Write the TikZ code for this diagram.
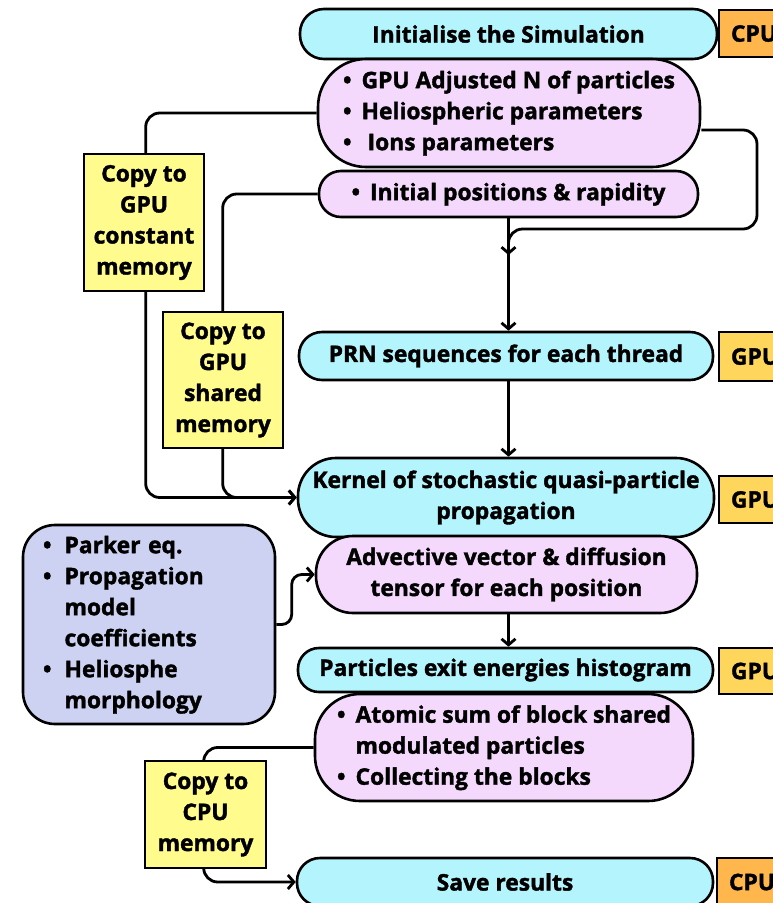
\documentclass[tikz,border=0pt]{standalone}
\usepackage{fontspec}
\setmainfont{Open Sans}[BoldFeatures={FakeBold=1.6}]
\usetikzlibrary{arrows.meta,calc}
\pgfdeclarelayer{bg}\pgfsetlayers{bg,main}
\definecolor{cyanbox}{HTML}{B4F4FD}
\definecolor{purplebox}{HTML}{F4D9FC}
\definecolor{bluebox}{HTML}{CDD2F3}
\definecolor{yellowbox}{HTML}{FFFB8C}
\definecolor{gpucol}{HTML}{FFD65C}
\definecolor{cpucol}{HTML}{FFB74D}
\tikzset{
  box/.style={draw=black, line width=2.6pt, font=\fontsize{22.8}{31}\selectfont\bfseries, align=center, inner sep=0pt},
  cyanpill/.style={box, fill=cyanbox},
  purplepill/.style={box, fill=purplebox},
  copybox/.style={box, fill=yellowbox, line width=2.2pt, minimum width=120pt},
  tag/.style={box, line width=2pt, anchor=west, inner xsep=12pt},
  conn/.style={line width=2.8pt, -{Straight Barb[length=6pt,width=14pt]}},
}
\newcommand{\bl}{\textbullet}
\begin{document}
\begin{tikzpicture}[x=1pt,y=-1pt]
\clip (0,0) rectangle (773,903);
\begin{pgfonlayer}{bg}
\fill[white] (0,0) rectangle (773,903);
\end{pgfonlayer}
% main column
\node[cyanpill, minimum width=417pt, minimum height=50pt, rounded corners=24pt] (init) at (508.5,34) {Initialise the Simulation};
\node[tag, fill=cpucol, minimum height=47pt] (cpu1) at (718,33.5) {CPU};
\node[purplepill, minimum width=382pt, minimum height=108pt, rounded corners=48pt] (p1) at (509,113)
  {\begin{tabular}{@{}l@{\hspace{10pt}}l@{}}\bl & GPU Adjusted N of particles\\ \bl & Heliospheric parameters\\ \bl & \hspace{6pt}Ions parameters\end{tabular}};
\node[purplepill, minimum width=379pt, minimum height=46pt, rounded corners=22pt] (p2) at (508.5,194)
  {\begin{tabular}{@{}l@{\hspace{10pt}}l@{}}\bl & Initial positions \& rapidity\end{tabular}};
\node[copybox, minimum height=137pt] (y1) at (144,222.5) {Copy to\\GPU\\constant\\memory};
\node[copybox, minimum height=136pt] (y2) at (223,380) {Copy to\\GPU\\shared\\memory};
\node[cyanpill, minimum width=414pt, minimum height=48pt, rounded corners=23pt] (prn) at (506,356) {PRN sequences for each thread};
\node[tag, fill=gpucol, minimum height=49pt] (gpu1) at (718,356.5) {GPU};
\node[cyanpill, minimum width=416pt, minimum height=79pt, rounded corners=38pt] (kernel) at (506,497.5) {Kernel of stochastic quasi-particle\\propagation};
\node[tag, fill=gpucol, minimum height=47pt] (gpu2) at (718,499.5) {GPU};
\node[purplepill, minimum width=381pt, minimum height=77pt, rounded corners=37pt] (adv) at (506.5,574.5) {Advective vector \& diffusion\\tensor for each position};
\node[box, fill=bluebox, minimum height=199pt, text width=212pt, inner xsep=20pt, align=left, rounded corners=32pt] (blue) at (149,624.5)
  {\begin{tabular}{@{}l@{\hspace{13pt}}l@{}}\bl & Parker eq.\\ \bl & Propagation\\ & model\\ & coefficients\\ \bl & Heliosphe\\ & morphology\end{tabular}};
\node[cyanpill, minimum width=415pt, minimum height=44pt, rounded corners=21pt] (hist) at (505.5,670) {Particles exit energies histogram};
\node[tag, fill=gpucol, minimum height=46pt] (gpu3) at (718,671) {GPU};
\node[purplepill, minimum width=378pt, minimum height=107pt, rounded corners=45pt] (p3) at (504,747.5)
  {\begin{tabular}{@{}l@{\hspace{10pt}}l@{}}\bl & Atomic sum of block shared\\ & modulated particles\\ \bl & Collecting the blocks\end{tabular}};
\node[copybox, minimum width=121pt, minimum height=107pt] (y3) at (205.5,814.5) {Copy to\\CPU\\memory};
\node[cyanpill, minimum width=416pt, minimum height=48pt, rounded corners=23pt] (save) at (505,882) {Save results};
\node[tag, fill=cpucol, minimum height=48pt] (cpu2) at (716,882) {CPU};
\coordinate (mergeC) at (508.5,255);
% connectors
\begin{pgfonlayer}{bg}
\draw[conn, rounded corners=14pt] (p1.west) -| ($(kernel.west)+(-151,0)$) -- (kernel.west);
\draw[conn, rounded corners=14pt] (p2.west) -| ($(kernel.west)+(-74,0)$) -- (kernel.west);
\draw[conn, rounded corners=14pt] ([yshift=-17pt]p1.east) -| (757,229) -| (mergeC);
\draw[conn] (p2.south) -- (p2.south |- prn.north);
\draw[conn] (prn.south -| p2.south) -- (kernel.north -| p2.south);
\draw[conn, rounded corners=10pt] (blue.east) -| ($(adv.west)+(-23,0)$) -- (adv.west);
\draw[conn] (adv.south -| p2.south) -- (hist.north -| p2.south);
\draw[conn, rounded corners=14pt] (p3.west) -| ($(save.west)+(-92,0)$) -- (save.west);
\end{pgfonlayer}
\end{tikzpicture}
\end{document}
